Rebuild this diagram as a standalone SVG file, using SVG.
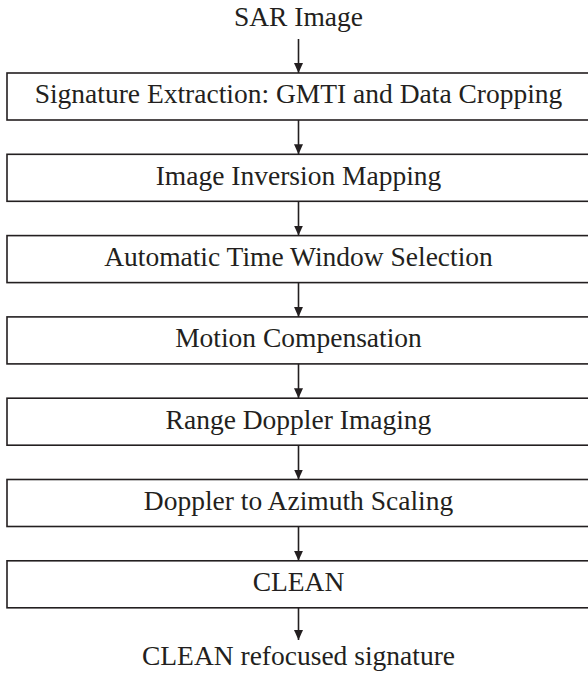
<svg xmlns="http://www.w3.org/2000/svg" width="588" height="677" viewBox="0 0 588 677">
<defs>
<marker id="ah" viewBox="0 0 10 10" refX="10" refY="5" markerWidth="10" markerHeight="10" markerUnits="userSpaceOnUse" orient="auto">
<path d="M0,0.5 L10,5 L0,9.5 Z" fill="#231f20"/>
</marker>
</defs>
<style>
.box{fill:#fff;stroke:#231f20;stroke-width:1.6}
.t{font-family:"Liberation Serif","Times New Roman",serif;font-size:27.5px;fill:#231f20;text-anchor:middle}
.c{stroke:#231f20;stroke-width:1.6;fill:none;marker-end:url(#ah)}
</style>
<rect width="588" height="677" fill="#fff"/>
<g id="input"><text class="t" x="298.5" y="25.5">SAR Image</text></g>
<g id="n1"><rect class="box" x="7" y="73" width="583" height="47"/><text class="t" x="298.5" y="103.3">Signature Extraction: GMTI and Data Cropping</text></g>
<g id="n2"><rect class="box" x="7" y="154.3" width="583" height="47"/><text class="t" x="298.5" y="184.6">Image Inversion Mapping</text></g>
<g id="n3"><rect class="box" x="7" y="235.6" width="583" height="47"/><text class="t" x="298.5" y="265.9">Automatic Time Window Selection</text></g>
<g id="n4"><rect class="box" x="7" y="316.9" width="583" height="47"/><text class="t" x="298.5" y="347.2">Motion Compensation</text></g>
<g id="n5"><rect class="box" x="7" y="398.2" width="583" height="47"/><text class="t" x="298.5" y="428.5">Range Doppler Imaging</text></g>
<g id="n6"><rect class="box" x="7" y="479.5" width="583" height="47"/><text class="t" x="298.5" y="509.8">Doppler to Azimuth Scaling</text></g>
<g id="n7"><rect class="box" x="7" y="560.8" width="583" height="47"/><text class="t" x="298.5" y="591.1">CLEAN</text></g>
<g id="output"><text class="t" x="298.5" y="665">CLEAN refocused signature</text></g>
<g id="connectors">
<line class="c" x1="298.5" y1="39" x2="298.5" y2="73"/>
<line class="c" x1="298.5" y1="120" x2="298.5" y2="154.3"/>
<line class="c" x1="298.5" y1="201.3" x2="298.5" y2="235.6"/>
<line class="c" x1="298.5" y1="282.6" x2="298.5" y2="316.9"/>
<line class="c" x1="298.5" y1="363.9" x2="298.5" y2="398.2"/>
<line class="c" x1="298.5" y1="445.2" x2="298.5" y2="479.5"/>
<line class="c" x1="298.5" y1="526.5" x2="298.5" y2="560.8"/>
<line class="c" x1="298.5" y1="607.8" x2="298.5" y2="640"/>
</g>
</svg>
